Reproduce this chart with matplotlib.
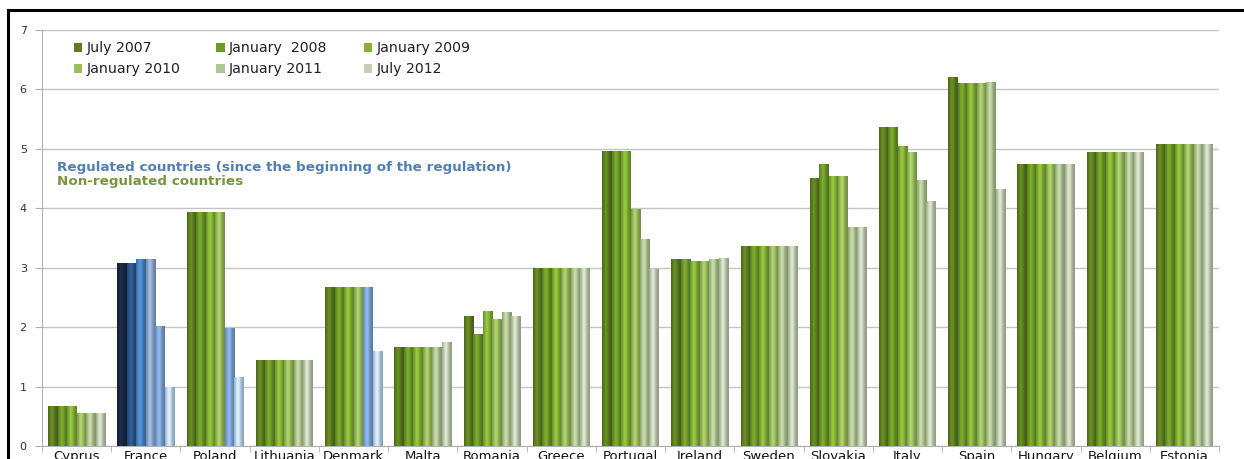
import numpy as np
import matplotlib
matplotlib.use('Agg')
import matplotlib.pyplot as plt
from matplotlib.colors import to_rgb
from matplotlib.patches import Patch
from matplotlib.lines import Line2D

countries = ['Cyprus', 'France', 'Poland', 'Lithuania', 'Denmark', 'Malta', 'Romania',
             'Greece', 'Portugal', 'Ireland', 'Sweden', 'Slovakia', 'Italy', 'Spain',
             'Hungary', 'Belgium', 'Estonia']
series_labels = ['July 2007', 'January  2008', 'January 2009',
                 'January 2010', 'January 2011', 'July 2012']

jul2007 = [0.67, 3.08, 3.93, 1.45, 2.68, 1.67, 2.19, 2.99, 4.97, 3.15, 3.36, 4.51, 5.37, 6.21, 4.74, 4.94, 5.08]
jan2008 = [0.67, 3.08, 3.93, 1.45, 2.68, 1.67, 1.89, 2.99, 4.97, 3.15, 3.36, 4.74, 5.37, 6.11, 4.74, 4.94, 5.08]
jan2009 = [0.67, 3.15, 3.93, 1.45, 2.68, 1.67, 2.28, 2.99, 4.97, 3.12, 3.36, 4.55, 5.04, 6.11, 4.74, 4.94, 5.08]
jan2010 = [0.56, 3.15, 3.93, 1.45, 2.68, 1.67, 2.13, 2.99, 3.98, 3.12, 3.36, 4.55, 4.95, 6.11, 4.74, 4.94, 5.08]
jan2011 = [0.56, 2.02, 1.99, 1.45, 2.68, 1.67, 2.25, 2.99, 3.48, 3.14, 3.36, 3.68, 4.48, 6.13, 4.74, 4.94, 5.08]
jul2012 = [0.56, 0.99, 1.16, 1.45, 1.60, 1.75, 2.19, 2.99, 2.98, 3.16, 3.36, 3.68, 4.13, 4.32, 4.74, 4.94, 5.08]
series = [jul2007, jan2008, jan2009, jan2010, jan2011, jul2012]

# first series index drawn in blue (regulated period) per country
regulated_from = {'France': 0, 'Poland': 4, 'Denmark': 4}

greens = ['#5d7e20', '#6f9a28', '#86b236', '#9bbd5e', '#b0c693', '#c4cfb4']
blues = ['#182844', '#2f5486', '#4a85c6', '#8ea9cc', '#7da5d8', '#c2d7f0']


def shade_bar(ax, patch, color):
    # cylinder-like horizontal shading clipped to the bar
    x, w, h = patch.get_x(), patch.get_width(), patch.get_height()
    t = np.linspace(0, 1, 40)
    f = 0.75 + 0.38 * np.exp(-((t - 0.4) / 0.3) ** 2)
    rgb = np.clip(np.array(to_rgb(color))[None, :] * f[:, None], 0, 1)
    im = ax.imshow(rgb[None, :, :], extent=[x, x + w, 0, h], aspect='auto',
                   interpolation='bilinear', zorder=3)
    im.set_clip_path(patch)


fig = plt.figure(figsize=(12.44, 4.59), dpi=100)
ax = fig.add_axes([42 / 1244, 1 - 446 / 459, (1219 - 42) / 1244, (446 - 30) / 459])

x = np.arange(len(countries))
bw = 0.137
for s, vals in enumerate(series):
    cols = []
    for c in countries:
        if c in regulated_from and s >= regulated_from[c]:
            cols.append(blues[s])
        else:
            cols.append(greens[s])
    bars = ax.bar(x + (s - 2.5) * bw, vals, bw, color=cols, linewidth=0, zorder=2)
    for p, col in zip(bars, cols):
        shade_bar(ax, p, col)

ax.set_xlim(-0.5, len(countries) - 0.5)
ax.set_ylim(0, 7)
ax.set_yticks(range(8))
ax.yaxis.grid(True, color='#c4c4c4', linewidth=1)
ax.set_axisbelow(True)
for sp in ['top', 'right']:
    ax.spines[sp].set_visible(False)
ax.spines['left'].set_color('#b0b0b0')
ax.spines['bottom'].set_color('#b0b0b0')
ax.tick_params(axis='y', length=5, color='#b0b0b0', labelsize=8, labelcolor='#333333', pad=6)
ax.set_xticks(x)
ax.set_xticklabels(countries, fontsize=9.5, color='#111111')
ax.tick_params(axis='x', length=0, pad=3)
ax.set_xticks(np.arange(-0.5, len(countries)), minor=True)
ax.tick_params(axis='x', which='minor', length=4, color='#b0b0b0')

# legend shown row by row: reorder for column-major filling
order = [0, 3, 1, 4, 2, 5]
handles = [Patch(facecolor=greens[i], edgecolor='none') for i in order]
labels = [series_labels[i] for i in order]
leg = ax.legend(handles, labels, ncol=3, loc='upper left',
                bbox_to_anchor=(0.016, 1.004), frameon=False, fontsize=10.2,
                handlelength=0.6, handleheight=0.6, handletextpad=0.3,
                columnspacing=2.55, labelspacing=0.5)
for t in leg.get_texts():
    t.set_color('#222222')

ax.text(57 / 1244, 1 - 167 / 459, 'Regulated countries (since the beginning of the regulation)',
        transform=fig.transFigure, color='#4f7fb8', fontsize=9.7, fontweight='bold', va='center')
ax.text(57 / 1244, 1 - 181 / 459, 'Non-regulated countries',
        transform=fig.transFigure, color='#76963a', fontsize=9.7, fontweight='bold', va='center')

# black frame lines at top and left of the image
fig.add_artist(Line2D([8 / 1244, 1], [1 - 9.5 / 459, 1 - 9.5 / 459], color='black',
                      linewidth=2.2, transform=fig.transFigure))
fig.add_artist(Line2D([8 / 1244, 8 / 1244], [0, 1 - 9.5 / 459], color='black',
                      linewidth=2.2, transform=fig.transFigure))

fig.savefig('out.png', dpi=100)
